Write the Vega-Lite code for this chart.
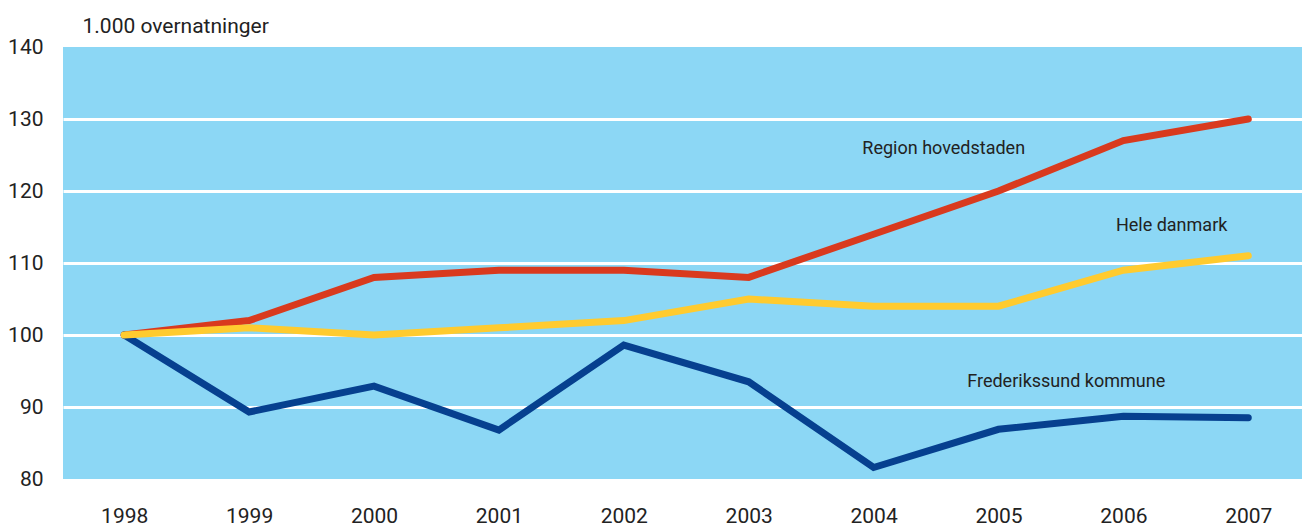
{
  "$schema": "https://vega.github.io/schema/vega-lite/v6.json",
  "autosize": {"type": "none"},
  "padding": {"left": 63, "top": 47, "right": 0, "bottom": 47},
  "width": 1239,
  "height": 432,
  "background": "white",
  "config": {
    "view": {"fill": "#8CD7F5", "stroke": null},
    "font": "Roboto",
    "text": {"font": "Roboto"}
  },
  "datasets": {
    "series": [
      {"year": 1998, "series": "Region hovedstaden", "value": 100},
      {"year": 1999, "series": "Region hovedstaden", "value": 102},
      {"year": 2000, "series": "Region hovedstaden", "value": 108},
      {"year": 2001, "series": "Region hovedstaden", "value": 109},
      {"year": 2002, "series": "Region hovedstaden", "value": 109},
      {"year": 2003, "series": "Region hovedstaden", "value": 108},
      {"year": 2004, "series": "Region hovedstaden", "value": 114},
      {"year": 2005, "series": "Region hovedstaden", "value": 120},
      {"year": 2006, "series": "Region hovedstaden", "value": 127},
      {"year": 2007, "series": "Region hovedstaden", "value": 130},
      {"year": 1998, "series": "Frederikssund kommune", "value": 100},
      {"year": 1999, "series": "Frederikssund kommune", "value": 89.3},
      {"year": 2000, "series": "Frederikssund kommune", "value": 92.9},
      {"year": 2001, "series": "Frederikssund kommune", "value": 86.8},
      {"year": 2002, "series": "Frederikssund kommune", "value": 98.6},
      {"year": 2003, "series": "Frederikssund kommune", "value": 93.5},
      {"year": 2004, "series": "Frederikssund kommune", "value": 81.6},
      {"year": 2005, "series": "Frederikssund kommune", "value": 86.9},
      {"year": 2006, "series": "Frederikssund kommune", "value": 88.7},
      {"year": 2007, "series": "Frederikssund kommune", "value": 88.5},
      {"year": 1998, "series": "Hele danmark", "value": 100},
      {"year": 1999, "series": "Hele danmark", "value": 101},
      {"year": 2000, "series": "Hele danmark", "value": 100},
      {"year": 2001, "series": "Hele danmark", "value": 101},
      {"year": 2002, "series": "Hele danmark", "value": 102},
      {"year": 2003, "series": "Hele danmark", "value": 105},
      {"year": 2004, "series": "Hele danmark", "value": 104},
      {"year": 2005, "series": "Hele danmark", "value": 104},
      {"year": 2006, "series": "Hele danmark", "value": 109},
      {"year": 2007, "series": "Hele danmark", "value": 111}
    ],
    "labels": [
      {"label": "Region hovedstaden", "lx": 2003.91, "ly": 125.9},
      {"label": "Hele danmark", "lx": 2005.94, "ly": 115.1},
      {"label": "Frederikssund kommune", "lx": 2004.75, "ly": 93.5}
    ]
  },
  "layer": [
    {
      "data": {"name": "series"},
      "transform": [{"filter": "datum.series == 'Region hovedstaden'"}],
      "mark": {"type": "line", "color": "#D93A1E", "strokeWidth": 7, "strokeCap": "round", "clip": false},
      "encoding": {
        "x": {
          "field": "year", "type": "quantitative",
          "scale": {"domain": [1997.51, 2007.43], "nice": false, "zero": false},
          "axis": {
            "values": [1998, 1999, 2000, 2001, 2002, 2003, 2004, 2005, 2006, 2007],
            "format": "d", "title": null, "grid": false, "domain": false, "ticks": false,
            "labelFontSize": 21, "labelColor": "#222222", "labelPadding": 26,
            "labelFont": "Roboto", "labelFlush": false
          }
        },
        "y": {
          "field": "value", "type": "quantitative",
          "scale": {"domain": [80, 140], "nice": false, "zero": false},
          "axis": {
            "values": [80, 90, 100, 110, 120, 130, 140],
            "title": "1.000 overnatninger", "titleAngle": 0, "titleAlign": "left",
            "titleBaseline": "alphabetic", "titleX": 19, "titleY": -15,
            "titleFontSize": 21, "titleFontWeight": "normal", "titleColor": "#222222", "titleFont": "Roboto",
            "domain": false, "ticks": false, "labelFontSize": 21, "labelColor": "#222222",
            "labelPadding": 20, "labelFont": "Roboto",
            "grid": true, "gridColor": "white", "gridWidth": 3,
            "gridOpacity": {"condition": {"test": "datum.value == 80 || datum.value == 140", "value": 0}, "value": 1}
          }
        }
      }
    },
    {
      "data": {"name": "series"},
      "transform": [{"filter": "datum.series == 'Frederikssund kommune'"}],
      "mark": {"type": "line", "color": "#06408F", "strokeWidth": 7, "strokeCap": "round", "clip": false},
      "encoding": {
        "x": {"field": "year", "type": "quantitative"},
        "y": {"field": "value", "type": "quantitative"}
      }
    },
    {
      "data": {"name": "series"},
      "transform": [{"filter": "datum.series == 'Hele danmark'"}],
      "mark": {"type": "line", "color": "#FFCB2F", "strokeWidth": 7, "strokeCap": "round", "clip": false},
      "encoding": {
        "x": {"field": "year", "type": "quantitative"},
        "y": {"field": "value", "type": "quantitative"}
      }
    },
    {
      "data": {"name": "labels"},
      "mark": {"type": "text", "align": "left", "baseline": "middle", "fontSize": 18, "color": "#222222", "font": "Roboto"},
      "encoding": {
        "x": {"field": "lx", "type": "quantitative"},
        "y": {"field": "ly", "type": "quantitative"},
        "text": {"field": "label"}
      }
    }
  ]
}
